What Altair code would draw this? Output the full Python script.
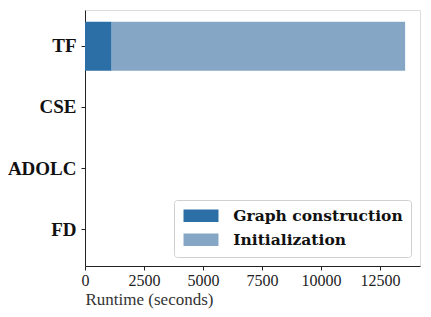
import altair as alt
import pandas as pd

categories = ["TF", "CSE", "ADOLC", "FD"]
stages = ["Graph construction", "Initialization"]
graph_construction = [1130, 0, 0, 0]
initialization = [12440, 0, 0, 0]
x_ticks = [0, 2500, 5000, 7500, 10000, 12500]

rows = []
for i, c in enumerate(categories):
    rows.append({"method": c, "stage": stages[0], "order": 0, "runtime": graph_construction[i]})
    rows.append({"method": c, "stage": stages[1], "order": 1, "runtime": initialization[i]})
df = pd.DataFrame(rows)

rect_path = "M-2.8,-1H2.8V1H-2.8Z"
SERIF = "Liberation Serif"

chart = alt.Chart(df).mark_bar().encode(
    x=alt.X("runtime:Q", stack="zero",
            scale=alt.Scale(domain=[0, 14200], nice=False, zero=True),
            axis=alt.Axis(values=x_ticks, format="d", title="Runtime (seconds)", grid=False,
                          labelFont=SERIF, labelFontSize=16, labelColor="#222",
                          labelPadding=2, tickSize=4, tickColor="#222", domainColor="#222",
                          titleFont=SERIF, titleFontSize=17, titleFontWeight="normal",
                          titleColor="#333", titleAnchor="start", titleAlign="left",
                          titlePadding=3, labelFlush=False)),
    y=alt.Y("method:N", sort=categories,
            scale=alt.Scale(paddingInner=0.2, paddingOuter=0.19),
            axis=alt.Axis(title=None, labelFont=SERIF, labelFontWeight="bold",
                          labelFontSize=19, labelColor="#111", tickSize=4, tickColor="#222",
                          domainColor="#222", labelPadding=5)),
    color=alt.Color("stage:N", sort=stages,
                    scale=alt.Scale(domain=stages, range=["#2c6fa6", "#86a6c6"]),
                    legend=alt.Legend(title=None, orient="bottom-right", offset=9,
                                      fillColor="white", strokeColor="#d0d0d0", cornerRadius=3,
                                      padding=8, symbolType=rect_path, symbolSize=156,
                                      symbolStrokeWidth=0, symbolOpacity=1, symbolOffset=11.25,
                                      labelFont="DejaVu Serif", labelFontWeight="bold",
                                      labelFontSize=15.5, labelColor="#111", labelOffset=24.5,
                                      labelLimit=300, rowPadding=7)),
    order=alt.Order("order:Q"),
).properties(
    width=335, height=256,
    autosize=alt.AutoSizeParams(type="none"),
    padding={"left": 77, "top": 2, "right": 3, "bottom": 45},
).configure_view(
    stroke="#222", strokeWidth=1
).configure(background="white")

chart.save("out.html", embed_options={"renderer": "svg", "actions": False})
